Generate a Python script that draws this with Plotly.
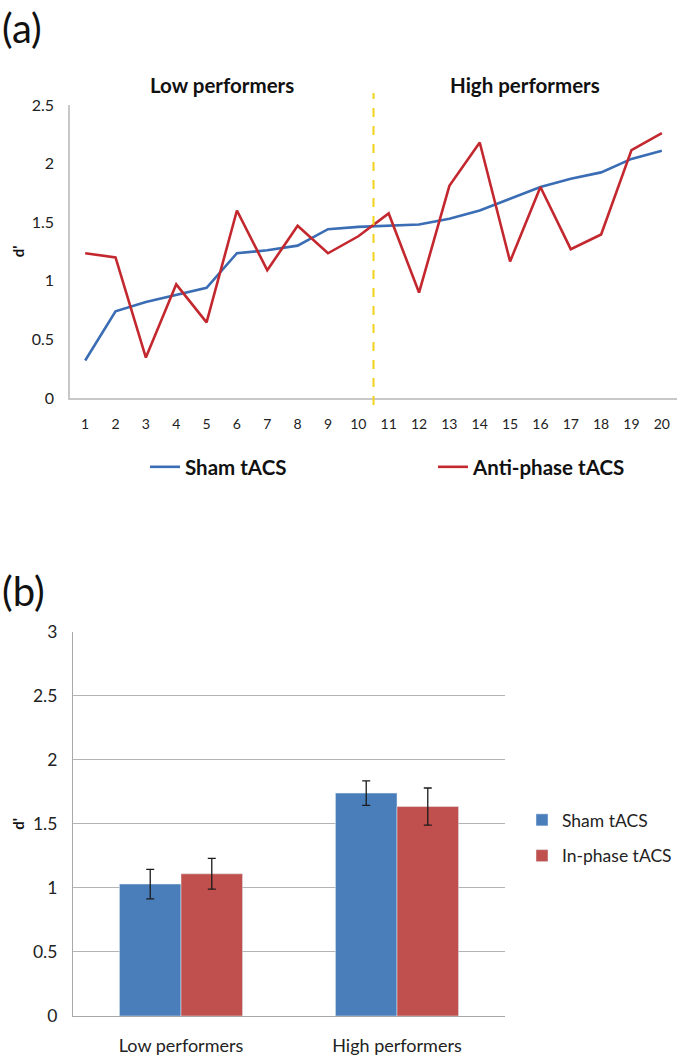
import plotly.graph_objects as go

# ---------- data: panel (a) ----------
subjects = list(range(1, 21))
sham_line = [0.32, 0.74, 0.82, 0.88, 0.94, 1.235, 1.26, 1.30, 1.44, 1.46,
             1.47, 1.48, 1.53, 1.60, 1.70, 1.80, 1.87, 1.925, 2.04, 2.11]
anti_line = [1.235, 1.20, 0.345, 0.97, 0.645, 1.60, 1.09, 1.47, 1.235, 1.38,
             1.575, 0.90, 1.81, 2.18, 1.165, 1.80, 1.27, 1.395, 2.115, 2.26]
n_low = 10
group_titles = ["Low performers", "High performers"]

# ---------- data: panel (b) ----------
groups = ["Low performers", "High performers"]
sham_bar = [1.03, 1.74]
sham_err = [0.115, 0.095]
inphase_bar = [1.11, 1.635]
inphase_err = [0.12, 0.145]

W, H = 685, 1058
def py(px):  # pixel row -> paper y
    return 1 - px / H
def pxx(px):
    return px / W

FONT = "Lato"
BLUE_L = "#3a6db4"
RED_L = "#c3282f"
BLUE_B = "#4a7ebb"
RED_B = "#c0504d"

fig = go.Figure()

fig.add_trace(go.Scatter(x=subjects, y=sham_line, mode="lines", name="Sham tACS",
                         line=dict(color=BLUE_L, width=2.6), xaxis="x", yaxis="y",
                         legend="legend"))
fig.add_trace(go.Scatter(x=subjects, y=anti_line, mode="lines", name="Anti-phase tACS",
                         line=dict(color=RED_L, width=2.6), xaxis="x", yaxis="y",
                         legend="legend"))

fig.add_trace(go.Bar(x=groups, y=sham_bar, name="Sham tACS", marker_color=BLUE_B,
                     error_y=dict(type="data", array=sham_err, color="#1a1a1a",
                                  thickness=1.3, width=4),
                     xaxis="x2", yaxis="y2", legend="legend2", legendgroup="s"))
fig.add_trace(go.Bar(x=groups, y=inphase_bar, name="In-phase tACS", marker_color=RED_B,
                     error_y=dict(type="data", array=inphase_err, color="#1a1a1a",
                                  thickness=1.3, width=4),
                     xaxis="x2", yaxis="y2", legend="legend2", legendgroup="i"))

fig.update_layout(
    width=W, height=H,
    margin=dict(l=0, r=0, t=0, b=0, autoexpand=False),
    paper_bgcolor="white", plot_bgcolor="white",
    font=dict(family=FONT, color="#222222"),
    barmode="group", bargap=0.43, bargroupgap=0,
    xaxis=dict(domain=[pxx(70), pxx(677)], anchor="y", range=[0.5, 20.5],
               tickvals=subjects, ticktext=[str(s) for s in subjects],
               showgrid=False, zeroline=False, showline=True, linecolor="#c8c8c8",
               linewidth=1.5, ticks="", tickfont=dict(size=14, color="#222222"),
               ticklabelstandoff=12),
    yaxis=dict(domain=[py(398), py(105)], anchor="x", range=[0, 2.5], dtick=0.5,
               showgrid=False, zeroline=False, showline=True, linecolor="#c8c8c8",
               linewidth=1.5, ticks="", tickfont=dict(size=16, color="#222222"),
               ticklabelstandoff=11,
               title=dict(text="d'", font=dict(size=15, weight="bold", color="#111"),
                          standoff=3)),
    xaxis2=dict(domain=[pxx(73), pxx(505)], anchor="y2",
                showgrid=False, zeroline=False, showline=True, linecolor="#a8a8a8",
                linewidth=1.2, ticks="", tickfont=dict(size=18, color="#222222"),
                ticklabelstandoff=13),
    yaxis2=dict(domain=[py(1016), py(631.7)], anchor="x2", range=[0, 3], dtick=0.5,
                showgrid=True, gridcolor="#b4b4b4", gridwidth=1.2, zeroline=False,
                showline=True, linecolor="#a8a8a8", linewidth=1.2, ticks="",
                tickfont=dict(size=17.5, color="#222222"), ticklabelstandoff=11,
                title=dict(text="d'", font=dict(size=15, weight="bold", color="#111"),
                           standoff=4)),
    legend=dict(orientation="h", x=pxx(145), y=py(467), xref="paper", yref="paper",
                xanchor="left", yanchor="middle",
                entrywidth=243, entrywidthmode="pixels", bgcolor="rgba(0,0,0,0)",
                font=dict(size=20.5, weight="bold", color="#111111"), itemwidth=30),
    legend2=dict(orientation="v", x=pxx(522), y=py(838), xref="paper", yref="paper",
                 xanchor="left", yanchor="middle",
                 bgcolor="rgba(0,0,0,0)", tracegroupgap=10,
                 font=dict(size=17.5, color="#222222")),
    showlegend=True,
)

# separator between low and high performers
fig.add_shape(type="line", xref="x", yref="paper", x0=n_low + 0.5, x1=n_low + 0.5,
              y0=py(405), y1=py(93), line=dict(color="#f2d21a", width=2, dash="dash"))

fig.add_annotation(x=(1 + n_low) / 2, y=py(85), xref="x", yref="paper",
                   xanchor="center", yanchor="middle",
                   text=group_titles[0], showarrow=False,
                   font=dict(size=20.5, weight="bold", color="#111111"))
fig.add_annotation(x=(n_low + 1 + len(subjects)) / 2, y=py(85), xref="x", yref="paper",
                   xanchor="center", yanchor="middle",
                   text=group_titles[1], showarrow=False,
                   font=dict(size=20.5, weight="bold", color="#111111"))

fig.add_annotation(x=0, y=py(2), xref="paper", yref="paper", xanchor="left",
                   yanchor="top", text="(a)", showarrow=False,
                   font=dict(size=40, color="#111111"))
fig.add_annotation(x=0, y=py(565), xref="paper", yref="paper", xanchor="left",
                   yanchor="top", text="(b)", showarrow=False,
                   font=dict(size=40, color="#111111"))

fig.write_html("out.html", config={"displayModeBar": False},
               post_script="document.body.style.margin='0';")
